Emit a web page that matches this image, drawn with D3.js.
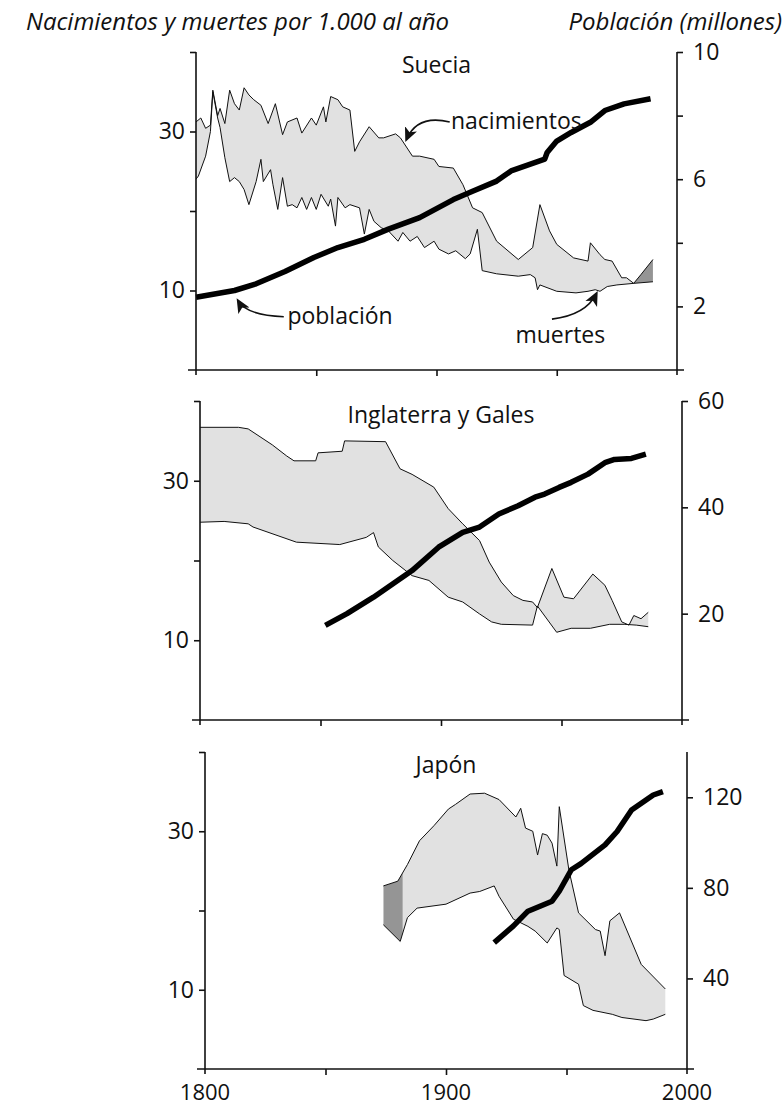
<!DOCTYPE html>
<html><head><meta charset="utf-8">
<script src="https://cdn.jsdelivr.net/npm/d3@7"></script>
<style>
body{margin:0;background:#fff}
text{font-family:"Open Sans",sans-serif;fill:#111}
</style>
</head><body>
<svg id="c" width="784" height="1107"></svg>
<script>
// ---------------- DATA ----------------
const xTicks = [1800, 1850, 1900, 1950, 2000];
const xTickLabels = [1800, 1900, 2000];
const leftTicks = [10, 20, 30, 40];
const leftTickLabels = [10, 30];

// Suecia
const swBirthYears = [1800,1802,1804,1806,1807,1809,1810,1812,1814,1816,1818,1820,1822,1824,1827,1830,1833,1836,1838,1842,1844,1848,1850,1853,1854,1856,1859,1861,1864,1866,1868,1872,1876,1878,1883,1885,1890,1893,1899,1901,1907,1911,1915,1919,1925,1934,1940,1943,1947,1950,1957,1963,1964,1968,1970,1973,1977,1979,1982,1985,1990];
const swBirths = [31.2,31.7,30.4,30.8,35.2,32.0,32.9,31.0,35.2,33.5,32.7,35.5,34.6,34.0,33.3,31.0,33.5,29.6,31.2,31.7,29.8,31.7,30.8,33.1,31.2,34.4,34.0,33.1,32.7,27.5,28.7,30.6,29.2,29.2,29.7,29.2,26.9,26.9,26.5,25.6,25.4,23.3,20.4,19.8,16.2,13.9,15.4,20.8,17.5,15.8,14.1,13.7,16.0,14.5,13.9,13.7,11.6,11.6,10.9,12.0,13.9];
const swDeathYears = [1800,1801,1804,1806,1807,1809,1810,1812,1814,1816,1818,1820,1822,1825,1827,1828,1831,1832,1834,1836,1838,1840,1842,1844,1846,1848,1850,1852,1855,1856,1858,1859,1862,1864,1868,1870,1872,1874,1877,1880,1884,1886,1889,1892,1895,1899,1901,1905,1908,1912,1914,1917,1919,1925,1934,1939,1941,1942,1943,1950,1958,1963,1966,1968,1971,1975,1982,1990];
const swDeaths = [24.0,24.4,26.9,30.0,35.0,31.7,30.5,26.7,23.7,24.2,23.7,22.7,20.8,23.7,26.5,23.7,25.2,23.3,20.2,24.2,20.6,20.8,20.4,21.7,20.2,21.7,20.2,22.1,20.6,21.5,18.1,21.7,20.4,20.8,20.4,17.1,20.2,18.7,17.9,17.5,16.2,17.3,16.2,16.8,15.4,16.2,15.2,14.6,15.0,14.0,14.6,17.7,12.5,12.1,11.8,12.0,11.6,10.1,10.7,9.9,9.7,9.9,10.1,9.9,10.5,10.7,10.9,11.1];
const swPopYears = [1800,1816,1825,1837,1849,1859,1870,1880,1893,1907,1915,1925,1931,1945,1946,1950,1956,1964,1970,1978,1989];
const swPop = [2.29,2.5,2.71,3.1,3.54,3.85,4.11,4.43,4.79,5.36,5.62,5.94,6.26,6.63,6.84,7.2,7.47,7.79,8.16,8.37,8.53];

// Inglaterra y Gales
const ewBirthYears = [1800,1816,1820,1830,1836,1839,1848,1849,1859,1860,1877,1883,1888,1897,1903,1909,1916,1920,1925,1930,1934,1938,1940,1946,1951,1955,1963,1968,1971,1975,1978,1980,1983,1986];
const ewBirths = [36.7,36.7,36.5,34.5,33.1,32.5,32.5,33.5,33.7,35.0,34.9,31.5,30.8,29.2,26.5,24.6,22.5,19.8,17.3,15.6,15.0,14.8,14.1,19.0,15.4,15.2,18.3,16.9,15.0,12.3,11.9,13.1,12.7,13.5];
const ewDeathYears = [1800,1810,1820,1822,1840,1858,1869,1872,1874,1880,1888,1895,1903,1909,1916,1921,1925,1938,1940,1948,1954,1962,1970,1976,1981,1986];
const ewDeaths = [24.8,24.9,24.6,24.2,22.3,22.0,22.9,23.5,21.7,20.0,18.1,17.5,15.4,14.8,13.3,12.3,12.0,11.9,14.3,11.0,11.5,11.5,12.0,12.0,11.9,11.7];
const ewPopYears = [1852,1861,1872,1888,1899,1909,1916,1924,1932,1939,1943,1949,1954,1961,1968,1972,1979,1985];
const ewPop = [17.8,20.0,23.1,28.1,32.5,35.3,36.3,38.75,40.3,41.9,42.5,43.75,44.7,46.25,48.4,49.0,49.2,50.0];

// Japón
const jpBirthYears = [1874,1880,1884,1889,1895,1901,1904,1910,1916,1922,1929,1931,1933,1936,1938,1940,1942,1944,1946,1947,1951,1955,1962,1964,1966,1968,1972,1981,1991];
const jpBirths = [23.1,23.7,25.8,28.8,30.7,32.8,33.4,34.7,34.8,34.0,31.8,32.9,30.4,30.0,27.0,29.7,29.5,28.5,25.6,33.1,25.1,19.7,17.6,17.4,14.3,18.7,19.7,13.2,10.1];
const jpDeathYears = [1874,1881,1884,1888,1900,1910,1914,1920,1922,1928,1934,1937,1942,1946,1947,1949,1955,1957,1961,1969,1973,1983,1986,1991];
const jpDeaths = [18.2,16.1,19.1,20.3,20.8,22.2,22.4,23.1,21.8,18.9,18.0,17.4,15.9,17.8,17.6,11.8,10.7,8.0,7.4,6.9,6.5,6.1,6.3,6.9];
const jpPopYears = [1920,1928,1934,1944,1947,1952,1956,1966,1971,1977,1986,1990];
const jpPop = [55.8,63.2,69.7,74.1,78.5,88.0,90.7,99.0,104.9,114.4,121.0,122.5];

const countries = ["Suecia", "Inglaterra y Gales", "Japón"];
const popMax = [10, 60, 140];
const popTicks = [[2,4,6,8,10],[20,40,60],[40,80,120]];
const popTickLabels = [[2,6,10],[20,40,60],[40,80,120]];
const darkSpans = [[1982,1990], null, [1874,1882]];

// ---------------- LAYOUT ----------------
const layout = [
  {x0:196, x1:677, top:52,  bottom:370},
  {x0:200, x1:682, top:401, bottom:720},
  {x0:205, x1:687, top:752, bottom:1069}
];
const series = [
  {bY:swBirthYears,b:swBirths,dY:swDeathYears,d:swDeaths,pY:swPopYears,p:swPop},
  {bY:ewBirthYears,b:ewBirths,dY:ewDeathYears,d:ewDeaths,pY:ewPopYears,p:ewPop},
  {bY:jpBirthYears,b:jpBirths,dY:jpDeathYears,d:jpDeaths,pY:jpPopYears,p:jpPop}
];

const svg = d3.select("#c");
const FS = 23;

// headers
svg.append("text").attr("x", 26).attr("y", 30).attr("font-style","italic").attr("font-size",24)
  .text("Nacimientos y muertes por 1.000 al año");
svg.append("text").attr("x", 782).attr("y", 30).attr("font-style","italic").attr("font-size",24)
  .attr("text-anchor","end").text("Población (millones)");

const defs = svg.append("defs");
defs.append("marker").attr("id","ah").attr("viewBox","0 0 10 10").attr("refX",8).attr("refY",5)
  .attr("markerWidth",9).attr("markerHeight",9).attr("orient","auto-start-reverse")
  .append("path").attr("d","M0,0.5 L10,5 L0,9.5 L2.5,5 Z").attr("fill","#111");

const panelScales = [];
layout.forEach((L, i) => {
  const s = series[i];
  const x = d3.scaleLinear().domain([1800, 2000]).range([L.x0, L.x1]);
  const yL = d3.scaleLinear().domain([0, 40]).range([L.bottom, L.top]);
  const yR = d3.scaleLinear().domain([0, popMax[i]]).range([L.bottom, L.top]);
  panelScales.push({x, yL, yR});
  const g = svg.append("g");

  // fill polygon between births and deaths
  const pts = s.bY.map((yr, k) => [x(yr), yL(s.b[k])])
    .concat(s.dY.map((yr, k) => [x(yr), yL(s.d[k])]).reverse());
  const poly = d3.line()(pts) + "Z";
  g.append("path").attr("d", poly).attr("fill", "#e1e1e1").attr("stroke","none");
  if (darkSpans[i]) {
    const cid = "clip" + i;
    defs.append("clipPath").attr("id", cid).append("rect")
      .attr("x", x(darkSpans[i][0])).attr("y", L.top).attr("width", x(darkSpans[i][1]) - x(darkSpans[i][0]))
      .attr("height", L.bottom - L.top);
    g.append("path").attr("d", poly).attr("fill", "#959595").attr("clip-path", `url(#${cid})`);
  }
  const line = d3.line().x(d => x(d[0])).y(d => yL(d[1]));
  g.append("path").attr("d", line(s.bY.map((yr,k)=>[yr,s.b[k]]))).attr("fill","none").attr("stroke","#111").attr("stroke-width",1);
  g.append("path").attr("d", line(s.dY.map((yr,k)=>[yr,s.d[k]]))).attr("fill","none").attr("stroke","#111").attr("stroke-width",1);
  const pline = d3.line().x(d => x(d[0])).y(d => yR(d[1]));
  g.append("path").attr("d", pline(s.pY.map((yr,k)=>[yr,s.p[k]]))).attr("fill","none").attr("stroke","#000")
    .attr("stroke-width",5.5).attr("stroke-linejoin","round").attr("stroke-linecap","butt");

  // title
  g.append("text").attr("x", x(1900)).attr("y", yL(37.3)).attr("text-anchor","middle").attr("font-size",FS)
    .text(countries[i]);

  // axes
  const axStyle = sel => { sel.selectAll("path,line").attr("stroke","#111").attr("stroke-width",1.6); sel.selectAll("text").attr("font-size",FS).attr("font-family","Open Sans, sans-serif").attr("fill","#111"); };
  const ax = d3.axisBottom(x).tickValues(xTicks.slice(1,4)).tickSize(6).tickSizeOuter(0).tickFormat("");
  const gx = g.append("g").attr("transform",`translate(0,${L.bottom})`).call(ax);
  gx.select(".domain").attr("d", `M${L.x0-8},0H${L.x1+7}`);
  axStyle(gx);

  const al = d3.axisLeft(yL).tickValues(leftTicks).tickSize(6).tickPadding(5).tickSizeOuter(0)
    .tickFormat(d => leftTickLabels.includes(d) ? d : "");
  const gl = g.append("g").attr("transform",`translate(${L.x0},0)`).call(al);
  gl.select(".domain").attr("d", `M0,${L.top}V${L.bottom+5}`);
  axStyle(gl);

  const ar = d3.axisRight(yR).tickValues(popTicks[i]).tickSize(6).tickPadding(10).tickSizeOuter(0)
    .tickFormat(d => popTickLabels[i].includes(d) ? d : "");
  const gr = g.append("g").attr("transform",`translate(${L.x1},0)`).call(ar);
  gr.select(".domain").attr("d", `M0,${L.top}V${L.bottom+5}`);
  axStyle(gr);

  if (i === 2) {
    xTickLabels.forEach(v => {
      g.append("text").attr("x", x(v)).attr("y", L.bottom + 31).attr("text-anchor","middle")
        .attr("font-size", 22).text(v);
    });
  }
});

// annotations (Suecia)
const A = panelScales[0];
const g0 = svg.append("g");
const arrow = d => g0.append("path").attr("d", d).attr("fill","none").attr("stroke","#111")
  .attr("stroke-width",1.6).attr("marker-end","url(#ah)");
g0.append("text").attr("x", A.x(1906)).attr("y", A.yL(30.3)).attr("font-size", FS).text("nacimientos");
arrow(`M${A.x(1905.5)},${A.yL(31.2)} Q${A.x(1892)},${A.yL(32.2)} ${A.x(1887.5)},${A.yL(29.0)}`);
g0.append("text").attr("x", A.x(1838)).attr("y", A.yL(5.8)).attr("font-size", FS).text("población");
arrow(`M${A.x(1836.5)},${A.yL(6.7)} Q${A.x(1821)},${A.yL(6.9)} ${A.x(1817.5)},${A.yL(8.7)}`);
g0.append("text").attr("x", A.x(1951.5)).attr("y", A.yL(3.4)).attr("text-anchor","middle").attr("font-size", FS).text("muertes");
arrow(`M${A.x(1948)},${A.yL(6.4)} Q${A.x(1962)},${A.yL(6.9)} ${A.x(1966.5)},${A.yL(9.6)}`);
</script>
</body></html>
